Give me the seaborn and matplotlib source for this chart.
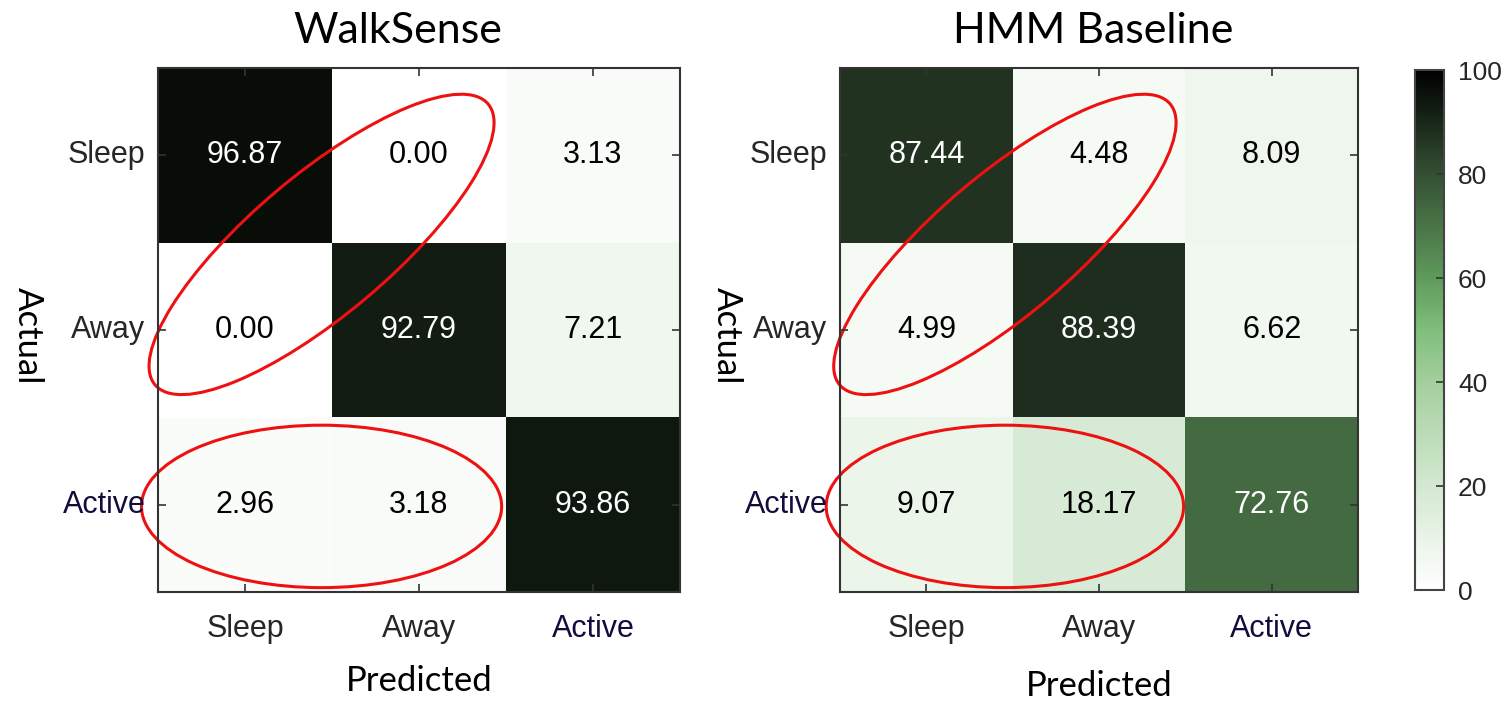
import numpy as np
import matplotlib
matplotlib.use('Agg')
import matplotlib.pyplot as plt
import seaborn as sns
from matplotlib.colors import LinearSegmentedColormap
from matplotlib.patches import Ellipse

# Class labels
classes = ['Sleep', 'Away', 'Active']

# Confusion matrices (rows = actual, cols = predicted), in percent
walksense = [[96.87, 0.00, 3.13],
             [0.00, 92.79, 7.21],
             [2.96, 3.18, 93.86]]
hmm_baseline = [[87.44, 4.48, 8.09],
                [4.99, 88.39, 6.62],
                [9.07, 18.17, 72.76]]

titles = ['WalkSense', 'HMM Baseline']
cbar_ticks = [0, 20, 40, 60, 80, 100]

# White -> green -> black colormap
cmap = LinearSegmentedColormap.from_list('wgk', [
    (0.0, '#ffffff'), (0.2, '#d3e8d0'), (0.4, '#a3cf9d'), (0.5, '#7fbf7b'),
    (0.6, '#5f9a5b'), (0.8, '#345033'), (1.0, '#000000')])

W, H = 1511, 701


def px_rect(x0, y0, x1, y1):
    """Convert pixel box to figure fraction rect."""
    return [x0 / W, 1 - y1 / H, (x1 - x0) / W, (y1 - y0) / H]


def style_axis(ax, title, title_x, xlab_y, ylab_x):
    for s in ax.spines.values():
        s.set_visible(True)
        s.set_color('#333333')
        s.set_linewidth(1.5)
    ax.tick_params(direction='in', length=6, width=1.2, color='#333333',
                   top=True, right=True, labeltop=False, labelright=False,
                   labelsize=22, labelcolor='#262626')
    ax.tick_params(axis='x', pad=16)
    ax.tick_params(axis='y', pad=9)
    ax.set_title(title, family='Lato', fontsize=31, pad=18, x=title_x)

    ax.set_xlabel('Predicted', family='Lato', fontsize=25)
    ax.xaxis.label.set(va='center', ha='center')
    ax.xaxis.set_label_coords(0.5, xlab_y)

    ax.set_ylabel('Actual', family='Lato', fontsize=25)
    ax.yaxis.label.set(rotation=270, va='center', ha='center')
    ax.yaxis.set_label_coords(ylab_x, 0.49)

    for lab in ax.get_xticklabels() + ax.get_yticklabels():
        lab.set_family('Liberation Sans')
        if lab.get_text() == 'Active':
            lab.set_color('#140c3c')
    plt.setp(ax.get_yticklabels(), rotation=0, va='center')

    # dark annotations pure black, light ones stay white
    for t in ax.texts:
        if t.get_color() != 'w':
            t.set_color('black')


def main():
    fig = plt.figure(figsize=(W / 100, H / 100), dpi=100)
    ax1 = fig.add_axes(px_rect(158, 68, 680, 592))
    ax2 = fig.add_axes(px_rect(840, 68, 1358, 592))
    cax = fig.add_axes(px_rect(1415, 70, 1444, 590))

    annot_kws = {'fontsize': 22, 'family': 'Liberation Sans'}

    sns.heatmap(np.array(walksense), ax=ax1, cmap=cmap, vmin=0, vmax=100,
                annot=True, fmt='.2f', annot_kws=annot_kws, cbar=False,
                xticklabels=classes, yticklabels=classes)
    sns.heatmap(np.array(hmm_baseline), ax=ax2, cmap=cmap, vmin=0, vmax=100,
                annot=True, fmt='.2f', annot_kws=annot_kws, cbar_ax=cax,
                xticklabels=classes, yticklabels=classes)

    style_axis(ax1, titles[0], 0.46, -0.17, -0.249)
    style_axis(ax2, titles[1], 0.488, -0.18, -0.218)

    # Colorbar styling
    cbar = ax2.collections[0].colorbar
    cbar.set_ticks(cbar_ticks)
    cbar.outline.set_edgecolor('#444444')
    cbar.outline.set_linewidth(1.5)
    cax.tick_params(direction='in', length=6, width=1.2, color='#333333',
                    labelsize=19, labelcolor='#262626', pad=10)
    for lab in cax.get_yticklabels():
        lab.set_family('Liberation Sans')

    # Red highlight ellipses
    ell_kw = dict(fill=False, edgecolor='#ee1111', linewidth=2.2, clip_on=False)
    for ax, cx in ((ax1, 0.94), (ax2, 0.955)):
        ax.add_patch(Ellipse((cx, 1.01), 2.5, 0.8, angle=-40, **ell_kw))
        ax.add_patch(Ellipse((cx, 2.51), 2.07, 0.93, angle=0, **ell_kw))

    fig.savefig('out.png', dpi=100)


if __name__ == '__main__':
    main()
